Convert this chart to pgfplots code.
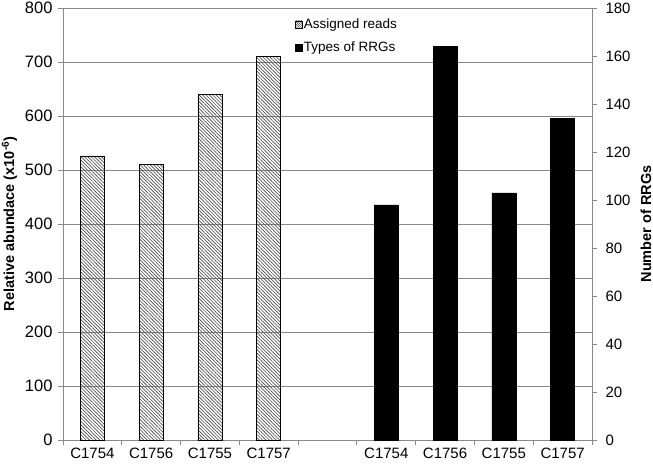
\documentclass[border=0pt]{standalone}
\usepackage{fontspec}
\setmainfont{Liberation Sans}
\usepackage{pgfplots}
\pgfplotsset{compat=1.18}
\usetikzlibrary{patterns.meta}

\definecolor{gridgray}{RGB}{137,137,137}

\pgfplotsset{
  sqleg/.style={legend image code/.code={\draw[##1] (0pt,-3.5pt) rectangle (7pt,3.5pt);}},
  common/.style={
    scale only axis, width=529pt, height=432pt,
    xmin=-0.5, xmax=8.5, ymin=0,
    bar width=24pt,
    tick align=outside,
    major tick length=5pt,
    tick style={gridgray, line width=0.8pt},
    axis line style={gridgray, line width=0.8pt},
    /pgf/number format/assume math mode=true,
    xticklabel style={font=\fontsize{15}{17}\selectfont},
    label style={font=\bfseries\fontsize{14.5}{17}\selectfont},
  },
}

\begin{document}
\begin{tikzpicture}[font=\fontsize{14}{16}\selectfont]
\path[use as bounding box] (-63pt,-26pt) rectangle (590pt,440pt);
% left axis: assigned reads
\begin{axis}[common,
  axis y line*=left, axis x line*=bottom,
  ymax=800, ytick={0,100,...,800},
  yticklabel style={font=\fontsize{16.5}{18}\selectfont, xshift=-2pt},
  ymajorgrids, grid style={gridgray, line width=0.8pt},
  xtick={-0.5,0.5,...,8.5}, xticklabels={},
  extra x ticks={0,1,2,3,5,6,7,8},
  extra x tick labels={C1754,C1756,C1755,C1757,C1754,C1756,C1755,C1757},
  extra x tick style={major tick length=0pt, grid=none, xticklabel style={yshift=-4pt}},
  ylabel={Relative abundace (x10\textsuperscript{-6})},
  ylabel style={at={(axis description cs:-0.101,0.5)}, anchor=center},
]
\addplot[ybar, draw=black, line width=0.6pt,
  pattern={Lines[angle=-45,distance=2.4pt,line width=0.65pt]}, pattern color=black!70]
  coordinates {(0,526) (1,510) (2,640) (3,710)};
\end{axis}

% right axis: number of RRGs
\begin{axis}[common,
  axis y line*=right, axis x line=none,
  ymax=180, ytick={0,20,...,180},
  yticklabel style={font=\fontsize{15}{17}\selectfont, xshift=5pt},
  ylabel={Number of RRGs},
  ylabel style={at={(axis description cs:1.102,0.5)}, anchor=center},
  legend style={draw=none, fill=none, at={(0.438,0.98)}, anchor=north west,
    font=\fontsize{13.5}{16}\selectfont, row sep=8pt, inner sep=0pt,
    nodes={inner xsep=1.5pt}},
  legend cell align=left,
]
\addlegendimage{sqleg, draw=black, line width=0.5pt,
  pattern={Lines[angle=-45,distance=1.6pt,line width=0.5pt]}, pattern color=black!75}
\addlegendentry{Assigned reads}
\addplot[ybar, fill=black, draw=black, sqleg]
  coordinates {(5,98) (6,164) (7,103) (8,134)};
\addlegendentry{Types of RRGs}
\end{axis}
\end{tikzpicture}
\end{document}
